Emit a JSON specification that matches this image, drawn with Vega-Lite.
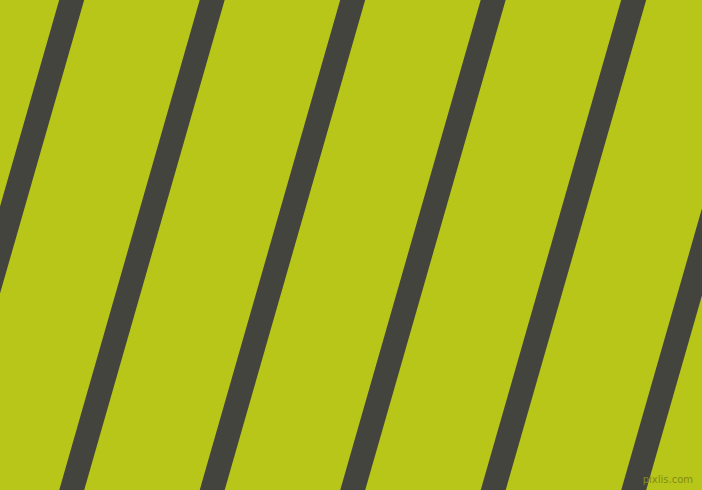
{
  "$schema": "https://vega.github.io/schema/vega-lite/v6.json",
  "autosize": {"type": "fit", "contains": "padding"},
  "width": 702,
  "height": 490,
  "padding": 0,
  "background": "#B8C61A",
  "config": {"view": {"stroke": null}},
  "layer": [
    {
      "data": {
        "values": [
          {"stripe": 0, "x": -74.5, "y": 510},
          {"stripe": 0, "x": 77.4, "y": -20},
          {"stripe": 1, "x": 66.0, "y": 510},
          {"stripe": 1, "x": 217.9, "y": -20},
          {"stripe": 2, "x": 206.5, "y": 510},
          {"stripe": 2, "x": 358.4, "y": -20},
          {"stripe": 3, "x": 347.0, "y": 510},
          {"stripe": 3, "x": 498.9, "y": -20},
          {"stripe": 4, "x": 487.5, "y": 510},
          {"stripe": 4, "x": 639.4, "y": -20},
          {"stripe": 5, "x": 628.0, "y": 510},
          {"stripe": 5, "x": 779.9, "y": -20}
        ]
      },
      "mark": {"type": "line", "color": "#43443E", "strokeWidth": 24, "strokeCap": "butt", "clip": true},
      "encoding": {
        "x": {"field": "x", "type": "quantitative", "scale": {"domain": [0, 702], "nice": false, "zero": false}, "axis": null},
        "y": {"field": "y", "type": "quantitative", "scale": {"domain": [0, 490], "nice": false, "zero": false, "reverse": true}, "axis": null},
        "detail": {"field": "stripe", "type": "nominal"},
        "order": {"field": "y", "type": "quantitative"}
      }
    },
    {
      "data": {"values": [{"label": "pixlis.com", "x": 693, "y": 480}]},
      "mark": {"type": "text", "align": "right", "baseline": "middle", "fontSize": 10, "font": "DejaVu Sans", "color": "#7F8C18"},
      "encoding": {
        "x": {"field": "x", "type": "quantitative", "scale": {"domain": [0, 702], "nice": false, "zero": false}, "axis": null},
        "y": {"field": "y", "type": "quantitative", "scale": {"domain": [0, 490], "nice": false, "zero": false, "reverse": true}, "axis": null},
        "text": {"field": "label"}
      }
    }
  ]
}
